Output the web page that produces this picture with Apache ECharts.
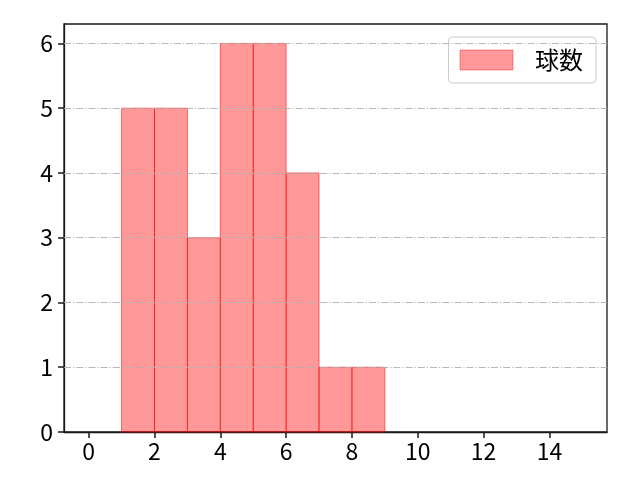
<!DOCTYPE html>
<html><head><meta charset="utf-8">
<script src="https://cdn.jsdelivr.net/npm/echarts@6/dist/echarts.min.js"></script>
<style>html,body{margin:0;padding:0;background:#fff}#c{width:640px;height:480px}</style>
</head><body><div id="c"></div>
<script>
const binStarts = [1, 2, 3, 4, 5, 6, 7, 8];
const binWidth = 1;
const counts = [5, 5, 3, 6, 6, 4, 1, 1];
const xTicks = [0, 2, 4, 6, 8, 10, 12, 14];
const yTicks = [0, 1, 2, 3, 4, 5, 6];
const seriesName = '球数';

const FONT = '"Noto Sans CJK JP", "DejaVu Sans", sans-serif';
const chart = echarts.init(document.getElementById('c'), null, {renderer: 'canvas'});
const data = binStarts.map((s, i) => [s, s + binWidth, counts[i]]);

chart.setOption({
  animation: false,
  grid: {left: 64, right: 33, top: 24, bottom: 48, show: true, borderColor: '#1a1a1a', borderWidth: 1.3, backgroundColor: 'transparent'},
  xAxis: {
    type: 'value', min: -0.75, max: 15.75,
    axisLine: {show: true, onZero: false, lineStyle: {color: '#1a1a1a', width: 1.3}},
    splitLine: {show: false},
    axisTick: {show: true, length: 6, inside: false, lineStyle: {color: '#1a1a1a', width: 1.5}, customValues: xTicks},
    axisLabel: {color: '#000', fontSize: 23, fontFamily: FONT, margin: 8, customValues: xTicks}
  },
  yAxis: {
    type: 'value', min: 0, max: 6.3,
    axisLine: {show: true, onZero: false, lineStyle: {color: '#1a1a1a', width: 1.3}},
    splitLine: {show: false},
    axisTick: {show: true, length: 6, lineStyle: {color: '#1a1a1a', width: 1.5}, customValues: yTicks},
    axisLabel: {color: '#000', fontSize: 23, fontFamily: FONT, margin: 11, customValues: yTicks}
  },
  legend: {
    right: 44, top: 37, itemWidth: 53, itemHeight: 20, itemGap: 10,
    padding: [11, 13, 11, 11],
    borderColor: '#cccccc', borderWidth: 1, borderRadius: 4, backgroundColor: 'rgba(255,255,255,0.8)',
    textStyle: {fontSize: 24, fontFamily: FONT, color: '#000', padding: [0, 0, 0, 17]},
    data: [{name: seriesName, icon: 'rect', itemStyle: {color: 'rgba(255,0,0,0.4)', borderColor: 'rgba(255,0,0,0.4)', borderWidth: 1}}]
  },
  series: [
    {
      type: 'line', name: '__grid', silent: true, data: [],
      markLine: {
        silent: true, symbol: 'none', label: {show: false},
        lineStyle: {color: '#b0b0b0', width: 0.9, type: [7, 2, 1.2, 2]},
        data: yTicks.filter(v => v > 0).map(v => ({yAxis: v}))
      },
      z: 0
    },
    {
      type: 'custom', name: seriesName, data: data,
      encode: {x: [0, 1], y: 2},
      renderItem: function (params, api) {
        const p0 = api.coord([api.value(0), 0]);
        const p1 = api.coord([api.value(1), api.value(2)]);
        return {
          type: 'rect',
          shape: {x: p0[0], y: p1[1], width: p1[0] - p0[0], height: p0[1] - p1[1]},
          style: {fill: 'rgba(255,0,0,0.4)', stroke: 'rgba(255,0,0,0.55)', lineWidth: 1}
        };
      },
      z: 2
    }
  ]
});
</script></body></html>
